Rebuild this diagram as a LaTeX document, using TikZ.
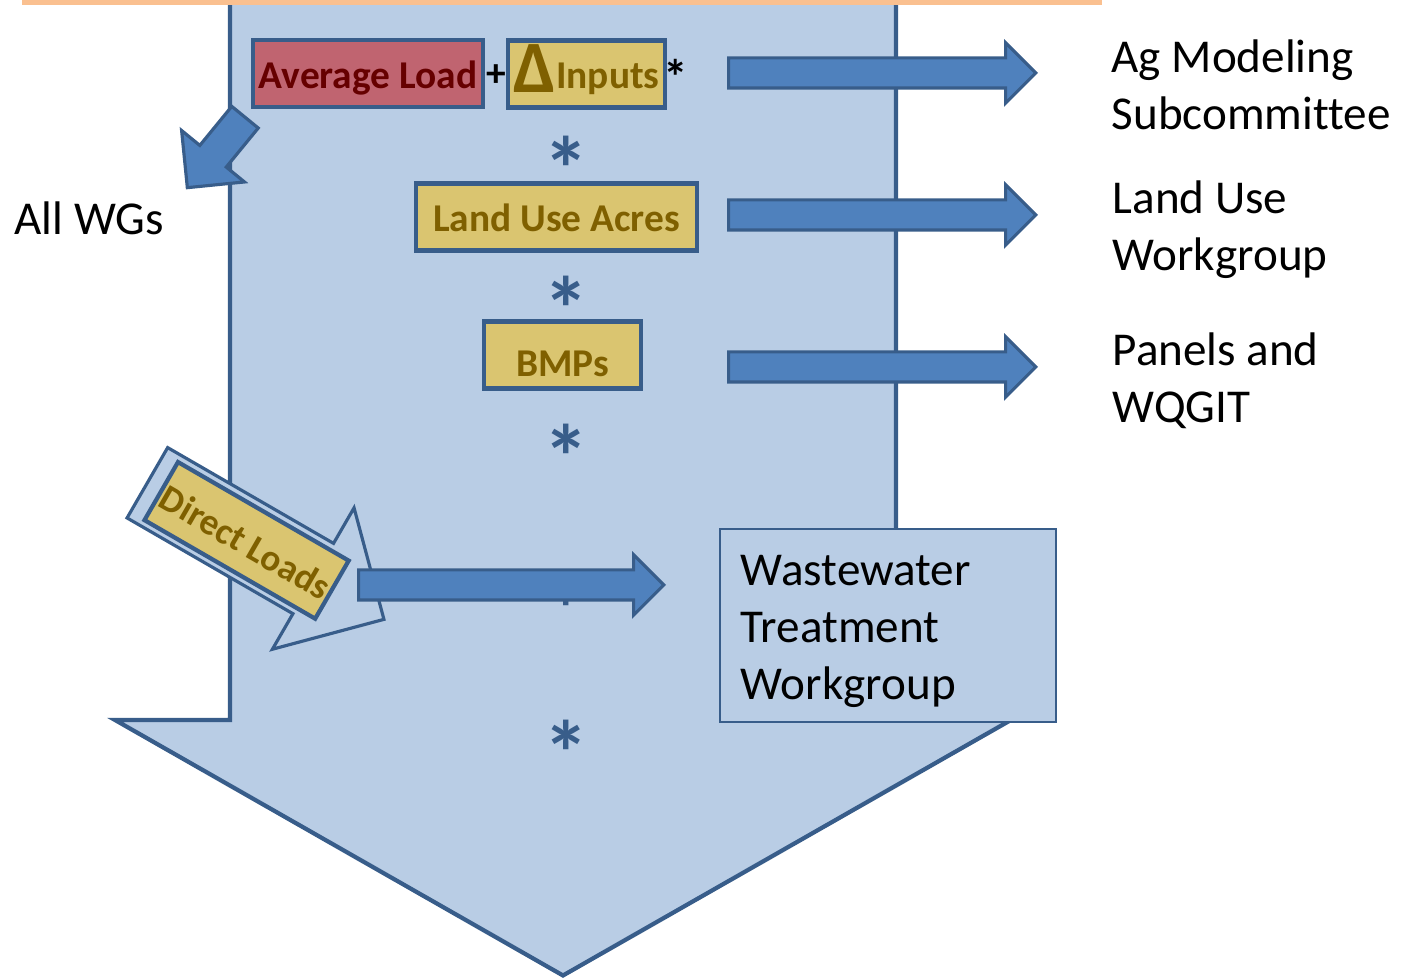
\documentclass[tikz,border=0pt]{standalone}
\usepackage{fontspec}
\setmainfont{Carlito}[Ligatures=NoCommon]
\usetikzlibrary{shapes.arrows}

\definecolor{shaft}{RGB}{185,205,229}
\definecolor{rim}{RGB}{56,93,138}
\definecolor{fatblue}{RGB}{79,129,189}
\definecolor{rose}{RGB}{192,100,112}
\definecolor{maroon}{RGB}{102,0,0}
\definecolor{gold}{RGB}{218,197,112}
\definecolor{ochre}{RGB}{127,96,0}
\definecolor{peach}{RGB}{250,192,144}

\tikzset{
  tag/.style={draw=rim, line width=1.2pt, inner sep=0pt, minimum height=0.67cm,
    text height=0.3cm, text depth=0pt, font=\fontsize{11.2}{13}\selectfont\bfseries},
  goldtag/.style={tag, fill=gold, text=ochre},
  fat/.style={single arrow, fill=fatblue, draw=rim, line width=0.9pt, anchor=tail,
    inner xsep=0pt, inner ysep=0.135cm, single arrow head extend=0.15cm,
    single arrow tip angle=90, minimum height=3.07cm},
  ast/.style={text=rim, inner sep=0pt, anchor=north, font=\fontsize{26}{26}\selectfont\bfseries},
  lbl/.style={align=left, inner sep=0pt, font=\fontsize{13.4}{16.2}\selectfont}
}

\begin{document}
\begin{tikzpicture}[x=0.01cm, y=-0.01cm]

    \useasboundingbox (0,0) rectangle (1414,980);

    \fill[shaft] (230,0) -- (230,720) -- (115,720) -- (563,975.5) -- (1011,720) -- (896,720) -- (896,0) -- cycle;
    \draw[rim, line width=1.2pt] (230,0) -- (230,720) -- (115,720) -- (563,975.5) -- (1011,720) -- (896,720) -- (896,0);

    \node[single arrow, fill=shaft, draw=rim, line width=0.9pt, anchor=tail, inner xsep=0pt, inner ysep=0.39cm,
      single arrow head extend=0.41cm, single arrow tip angle=90, minimum height=2.73cm, rotate=-30] (o) at (146,482) {};
    \node[goldtag, rotate=-30, minimum width=1.97cm, font=\fontsize{10.6}{12}\selectfont\bfseries] (k) at (246.6,540.4) {Direct Loads};

    \node[lbl, draw=rim, fill=shaft, line width=0.45pt, text width=2.94cm, inner xsep=0.21cm,
      minimum width=3.36cm, minimum height=1.93cm] (w) at (888,625.5) {\rule{0pt}{0.42cm}Wastewater\\Treatment\\Workgroup};

    \node[ast] (s1) at (566,135) {*};
    \node[ast] (s2) at (566,275) {*};
    \node[ast] (s3) at (566,423) {*};
    \node[ast] (s4) at (566,575) {*};
    \node[ast] (s5) at (566,719) {*};

    \node[fat] (r1) at (727,73) {};
    \node[fat] (r2) at (727,215) {};
    \node[fat] (r3) at (727,367) {};
    \node[fat, minimum height=3.05cm] (r4) at (357,585) {};
    \node[fat, inner ysep=0.155cm, single arrow head extend=0.235cm, minimum height=0.91cm, rotate=230.7] (r5) at (246,116) {};

    \node[tag, fill=rose, text=maroon, minimum width=2.30cm] (a) at (368,73.5) {Average Load};
    \node[goldtag, minimum width=1.57cm] (b) at (586.5,74) {\raisebox{-0.04cm}{\fontsize{21}{21}\selectfont Δ}Inputs};
    \node[inner sep=0pt, font=\fontsize{11.2}{13}\selectfont\bfseries] (p) at (496.5,75.5) {+};
    \node[inner sep=0pt, anchor=north, font=\fontsize{14}{14}\selectfont\bfseries] (q) at (676,59) {*};
    \node[goldtag, minimum width=2.81cm] (c) at (556.5,217) {Land Use Acres};
    \node[goldtag, minimum width=1.57cm, text height=0.44cm] (d) at (562.5,355) {BMPs};

    \node[lbl, anchor=north west] (e) at (1111,39) {Ag Modeling\\Subcommittee};
    \node[lbl, anchor=north west] (f) at (1112,180) {Land Use\\Workgroup};
    \node[lbl, anchor=north west] (g) at (1112,332) {Panels and\\WQGIT};
    \node[lbl, anchor=base west] (h) at (14,235) {All WGs};

    \fill[peach] (22,0) rectangle (1102,5);

\end{tikzpicture}
\end{document}
